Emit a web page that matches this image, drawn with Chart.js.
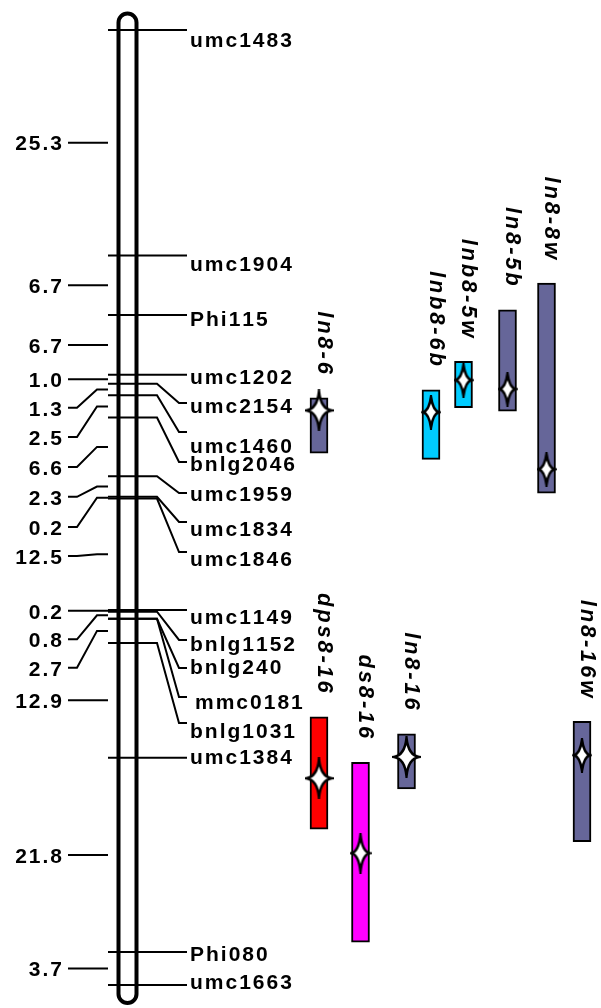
<!DOCTYPE html>
<html><head><meta charset="utf-8">
<script src="https://cdn.jsdelivr.net/npm/chart.js@4/dist/chart.umd.min.js"></script>
<style>html,body{margin:0;padding:0;background:#fff}#wrap{width:601px;height:1008px}</style>
</head><body><div id="wrap"><canvas id="c" width="601" height="1008"></canvas></div>
<script>
// ---- map data (cM) ----
const markerNames = ['umc1483','umc1904','Phi115','umc1202','umc2154','umc1460','bnlg2046','umc1959','umc1834','umc1846','umc1149','bnlg1152','bnlg240','mmc0181','bnlg1031','umc1384','Phi080','umc1663'];
const markerPos = [0, 25.3, 32.0, 38.7, 39.7, 41.0, 43.5, 50.1, 52.4, 52.6, 65.1, 65.3, 66.1, 66.1, 68.8, 81.7, 103.5, 107.2];
const intervalLabels = ['25.3','6.7','6.7','1.0','1.3','2.5','6.6','2.3','0.2','12.5','0.2','0.8','2.7','12.9','21.8','3.7'];

// ---- QTL data (cM) ----
const qtlNames = ['ln8-6','lnb8-6b','lnb8-5w','ln8-5b','ln8-8w','dps8-16','ds8-16','ln8-16','ln8-16w'];
const qtlStart = [41.3, 40.4, 37.2, 31.4, 28.4, 77.1, 82.2, 79.0, 77.6];
const qtlEnd   = [47.5, 48.2, 42.4, 42.8, 52.0, 89.7, 102.4, 85.2, 91.1];
const qtlPeak  = [42.7, 42.9, 39.3, 40.3, 49.3, 84.0, 92.4, 81.6, 81.4];

// ---- layout (label placement in cM, columns, styles) ----
const intervalLabelPos = [12.65, 28.65, 35.35, 39.2, 42.4, 45.7, 49.05, 52.4, 55.8, 59.05, 65.2, 68.4, 71.6, 75.25, 92.6, 105.35];
const markerLinkPos = [0, 25.3, 32.0, 38.7, 41.87, 45.12, 48.49, 51.97, 55.23, 58.60, 65.1, 68.47, 71.62, 74.88, 77.79, 81.7, 103.5, 107.2];
const markerTextPos = [1.23, 26.38, 32.55, 39.06, 42.32, 46.81, 48.83, 52.20, 56.13, 59.49, 65.99, 69.03, 71.62, 75.55, 78.80, 81.72, 103.83, 106.98];
const markerTextX = [190,190,190,190,190,190,190,190,190,190,190,190,190,195,190,190,190,190];
const qtlColumnX = [319, 431, 463.5, 507.5, 546.5, 319, 360.5, 406.5, 582];
const qtlColor = ['#666699','#00ccff','#00ccff','#666699','#666699','#ff0000','#ff00ff','#666699','#666699'];
const qtlStarSize = ['L','S','S','S','S','L','M','L','S'];

const FONT = '"Liberation Sans", Arial, Helvetica, sans-serif';
const SP = 2.0;

function makeStar(w, h) {
  const c = document.createElement('canvas');
  c.width = w + 4; c.height = h + 4;
  const g = c.getContext('2d');
  const cx = c.width / 2, cy = c.height / 2, i = 1.8;
  g.beginPath();
  g.moveTo(cx, cy - h / 2);
  g.quadraticCurveTo(cx + i, cy - i, cx + w / 2, cy);
  g.quadraticCurveTo(cx + i, cy + i, cx, cy + h / 2);
  g.quadraticCurveTo(cx - i, cy + i, cx - w / 2, cy);
  g.quadraticCurveTo(cx - i, cy - i, cx, cy - h / 2);
  g.closePath();
  g.fillStyle = '#fff'; g.fill();
  g.lineWidth = 2.5; g.strokeStyle = '#000'; g.lineJoin = 'miter'; g.stroke();
  return c;
}
const stars = { L: makeStar(25, 38), M: makeStar(18, 37), S: makeStar(16, 31) };

function spacedText(ctx, text, x, y, sp, align) {
  const chars = [...text];
  const ws = chars.map(ch => ctx.measureText(ch).width);
  const total = ws.reduce((a, b) => a + b, 0) + sp * (chars.length - 1);
  let cx = align === 'right' ? x - total : (align === 'center' ? x - total / 2 : x);
  ctx.textAlign = 'left';
  chars.forEach((ch, k) => { ctx.fillText(ch, cx, y); cx += ws[k] + sp; });
}

const decor = {
  id: 'decor',
  beforeDatasetsDraw(chart) {
    const ctx = chart.ctx, X = chart.scales.x, Y = chart.scales.y;
    const px = v => X.getPixelForValue(v), py = v => Y.getPixelForValue(v);
    ctx.save();
    ctx.strokeStyle = '#000'; ctx.lineWidth = 2; ctx.lineCap = 'butt'; ctx.lineJoin = 'miter';
    // marker connectors (right)
    markerPos.forEach((p, i) => {
      const y0 = py(p), y1 = py(markerLinkPos[i]);
      ctx.beginPath();
      ctx.moveTo(px(108), y0);
      if (Math.abs(y1 - y0) < 1.5) { ctx.lineTo(px(187), y0); }
      else { ctx.lineTo(px(157), y0); ctx.lineTo(px(179), y1); ctx.lineTo(px(187), y1); }
      ctx.stroke();
    });
    // interval connectors (left)
    const uniq = [];
    markerPos.forEach((p, i) => { if (i === 0 || p !== markerPos[i - 1]) uniq.push(p); });
    const mids = [];
    for (let i = 0; i < uniq.length - 1; i++) mids.push((uniq[i] + uniq[i + 1]) / 2);
    mids.forEach((m, i) => {
      const y0 = py(m), y1 = py(intervalLabelPos[i]);
      ctx.beginPath();
      ctx.moveTo(px(68), y1);
      if (Math.abs(y1 - y0) < 1.5) { ctx.lineTo(px(108), y1); }
      else { ctx.lineTo(px(77), y1); ctx.lineTo(px(97), y0); ctx.lineTo(px(108), y0); }
      ctx.stroke();
    });
    // chromosome outline
    const l = px(118.5), r = px(136.5), rad = (r - l) / 2, cxm = (l + r) / 2;
    const t = py(markerPos[0]) - 16.5, b = py(markerPos[markerPos.length - 1]) + 18;
    ctx.beginPath();
    ctx.moveTo(l, t + rad);
    ctx.arc(cxm, t + rad, rad, Math.PI, 0);
    ctx.lineTo(r, b - rad);
    ctx.arc(cxm, b - rad, rad, 0, Math.PI);
    ctx.closePath();
    ctx.lineWidth = 4; ctx.stroke();
    // texts
    ctx.fillStyle = '#000';
    ctx.font = 'bold 21px ' + FONT;
    ctx.textBaseline = 'middle';
    markerNames.forEach((n, i) => spacedText(ctx, n, px(markerTextX[i]), py(markerTextPos[i]), SP, 'left'));
    intervalLabels.forEach((s, i) => spacedText(ctx, s, px(62), py(intervalLabelPos[i]) + 2, SP, 'right'));
    ctx.restore();
  },
  afterDatasetsDraw(chart) {
    const ctx = chart.ctx, X = chart.scales.x, Y = chart.scales.y;
    ctx.save();
    ctx.fillStyle = '#000';
    ctx.font = 'italic bold 22px ' + FONT;
    ctx.textBaseline = 'middle';
    qtlNames.forEach((n, i) => {
      ctx.save();
      ctx.translate(X.getPixelForValue(qtlColumnX[i]) + 5, Y.getPixelForValue(qtlStart[i]) - 24);
      ctx.rotate(Math.PI / 2);
      spacedText(ctx, n, 0, 0, 2.8, 'right');
      ctx.restore();
    });
    ctx.restore();
  }
};

new Chart(document.getElementById('c'), {
  type: 'bar',
  data: {
    datasets: [
      {
        type: 'scatter',
        data: qtlPeak.map((v, i) => ({ x: qtlColumnX[i], y: v })),
        pointStyle: qtlStarSize.map(s => stars[s]),
        pointRadius: 10, pointHoverRadius: 10,
        order: 0
      },
      {
        type: 'bar',
        data: qtlNames.map((n, i) => ({ x: qtlColumnX[i], y: [qtlStart[i], qtlEnd[i]] })),
        backgroundColor: qtlColor,
        borderColor: '#000',
        borderWidth: 2,
        borderSkipped: false,
        barThickness: 18,
        order: 1
      }
    ]
  },
  options: {
    responsive: false,
    animation: false,
    events: [],
    layout: { padding: 0, autoPadding: false },
    plugins: { legend: { display: false }, tooltip: { enabled: false } },
    scales: {
      x: { type: 'linear', min: 0, max: 601, offset: false, display: false },
      y: { type: 'linear', min: -3.3675, max: 109.783, reverse: true, display: false }
    }
  },
  plugins: [decor]
});
</script>
</body></html>
